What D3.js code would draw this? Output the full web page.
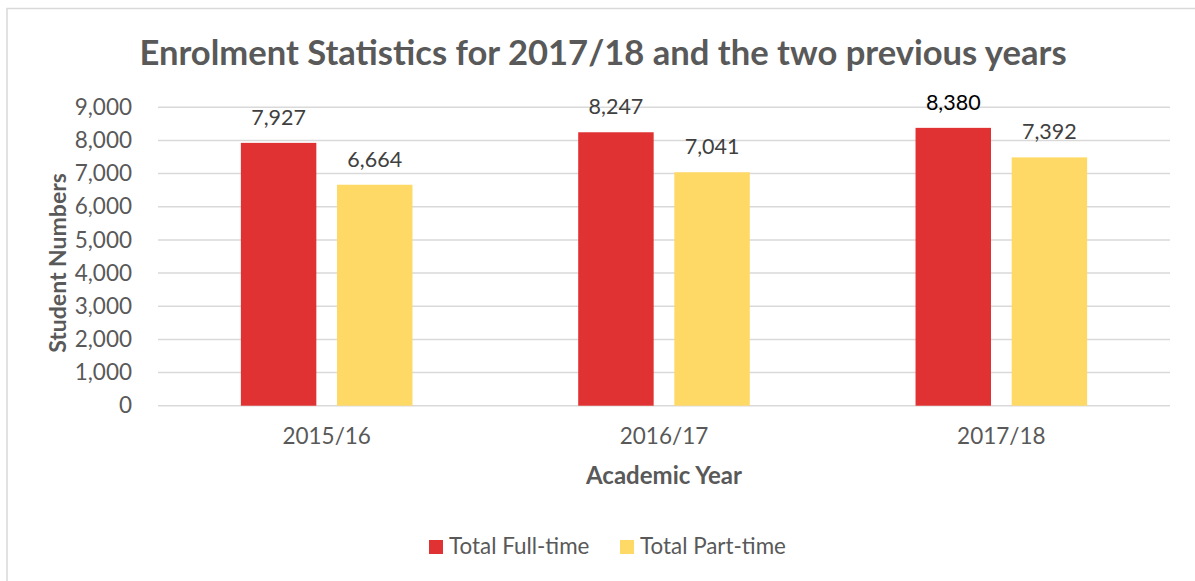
<!DOCTYPE html>
<html>
<head>
<meta charset="utf-8">
<script src="https://cdn.jsdelivr.net/npm/d3@7"></script>
<style>
  body { margin: 0; background: #fff; }
  svg { display: block; font-family: Lato, "Open Sans", sans-serif; }
</style>
</head>
<body>
<div class="chart"></div>
<script>
// Données
const years = ["2015/16", "2016/17", "2017/18"];
const seriesNames = ["Total Full-time", "Total Part-time"];
const fullTime = [7927, 8247, 8380];
const partTime = [6664, 7041, 7490]; // hauteur de barre
const fullTimeLabels = ["7,927", "8,247", "8,380"];
const partTimeLabels = ["6,664", "7,041", "7,392"];
const yTicks = [0, 1000, 2000, 3000, 4000, 5000, 6000, 7000, 8000, 9000];
const colors = ["#e03232", "#ffd966"];

const W = 1195, H = 581;
const plot = { left: 158, right: 1170, top: 107.3, bottom: 405.7 };

let svg = d3.select(".chart").append("svg")
    .attr("width", W)
    .attr("height", H);

// cadre
svg.append("rect")
    .attr("x", 7).attr("y", 8.5)
    .attr("width", 1200).attr("height", 600)
    .attr("fill", "#fff")
    .attr("stroke", "#d9d9d9")
    .attr("stroke-width", 1.5);

// échelles
let y = d3.scaleLinear().domain([0, 9000]).range([plot.bottom, plot.top]);
let x0 = d3.scaleBand().domain(years).range([plot.left, plot.right]);
let groupW = 171.6;
let x1 = d3.scaleBand().domain(seriesNames).range([-groupW / 2, groupW / 2]).paddingInner(0.215);

// grille
svg.append("g")
    .selectAll("line")
    .data(yTicks)
    .join("line")
    .attr("x1", plot.left).attr("x2", plot.right)
    .attr("y1", d => y(d)).attr("y2", d => y(d))
    .attr("stroke", "#d9d9d9")
    .attr("stroke-width", 1.5);

// axe Y
let yAxis = svg.append("g")
    .attr("transform", "translate(" + (plot.left - 23) + ",0)")
    .call(d3.axisLeft(y).tickValues(yTicks).tickSize(0).tickFormat(d3.format(",")));
yAxis.select(".domain").remove();
yAxis.selectAll("text")
    .attr("fill", "#595959")
    .attr("font-size", "22.5px")
    .attr("font-family", "Lato, sans-serif");

// axe X
let xAxis = svg.append("g")
    .attr("transform", "translate(0," + plot.bottom + ")")
    .call(d3.axisBottom(x0).tickSize(0).tickPadding(22));
xAxis.select(".domain").remove();
xAxis.selectAll("text")
    .attr("fill", "#595959")
    .attr("font-size", "22.5px")
    .attr("font-family", "Lato, sans-serif");

// barres
let rows = years.map((yr, i) => ({
    year: yr,
    vals: [
        { s: seriesNames[0], v: fullTime[i], label: fullTimeLabels[i] },
        { s: seriesNames[1], v: partTime[i], label: partTimeLabels[i] }
    ]
}));

let groups = svg.append("g")
    .selectAll("g")
    .data(rows)
    .join("g")
    .attr("transform", d => "translate(" + (x0(d.year) + x0.bandwidth() / 2) + ",0)");

groups.selectAll("rect")
    .data(d => d.vals)
    .join("rect")
    .attr("x", d => x1(d.s))
    .attr("width", x1.bandwidth())
    .attr("y", d => y(d.v))
    .attr("height", d => y(0) - y(d.v))
    .attr("fill", (d, i) => colors[i]);

groups.selectAll("text")
    .data(d => d.vals)
    .join("text")
    .attr("x", d => x1(d.s) + x1.bandwidth() / 2)
    .attr("y", d => y(d.v) - 18)
    .attr("text-anchor", "middle")
    .attr("font-size", "21.5px")
    .attr("fill", d => d.label === "8,380" ? "#000" : "#404040")
    .text(d => d.label);

// titres
svg.append("text")
    .attr("x", 603).attr("y", 65)
    .attr("text-anchor", "middle")
    .attr("font-size", "34.6px")
    .attr("font-weight", "bold")
    .attr("fill", "#595959")
    .text("Enrolment Statistics for 2017/18 and the two previous years");

svg.append("text")
    .attr("x", 664).attr("y", 484)
    .attr("text-anchor", "middle")
    .attr("font-size", "24px")
    .attr("font-weight", "bold")
    .attr("fill", "#595959")
    .text("Academic Year");

svg.append("text")
    .attr("transform", "translate(66,263) rotate(-90)")
    .attr("text-anchor", "middle")
    .attr("font-size", "23px")
    .attr("font-weight", "bold")
    .attr("fill", "#595959")
    .text("Student Numbers");

// légende
let legendX = [429, 620];
let legend = svg.append("g")
    .selectAll("g")
    .data(seriesNames)
    .join("g")
    .attr("transform", (d, i) => "translate(" + legendX[i] + ",540)");
legend.append("rect")
    .attr("width", 14).attr("height", 14)
    .attr("fill", (d, i) => colors[i]);
legend.append("text")
    .attr("x", 20).attr("y", 14)
    .attr("font-size", "22.4px")
    .attr("fill", "#595959")
    .text(d => d);
</script>
</body>
</html>
